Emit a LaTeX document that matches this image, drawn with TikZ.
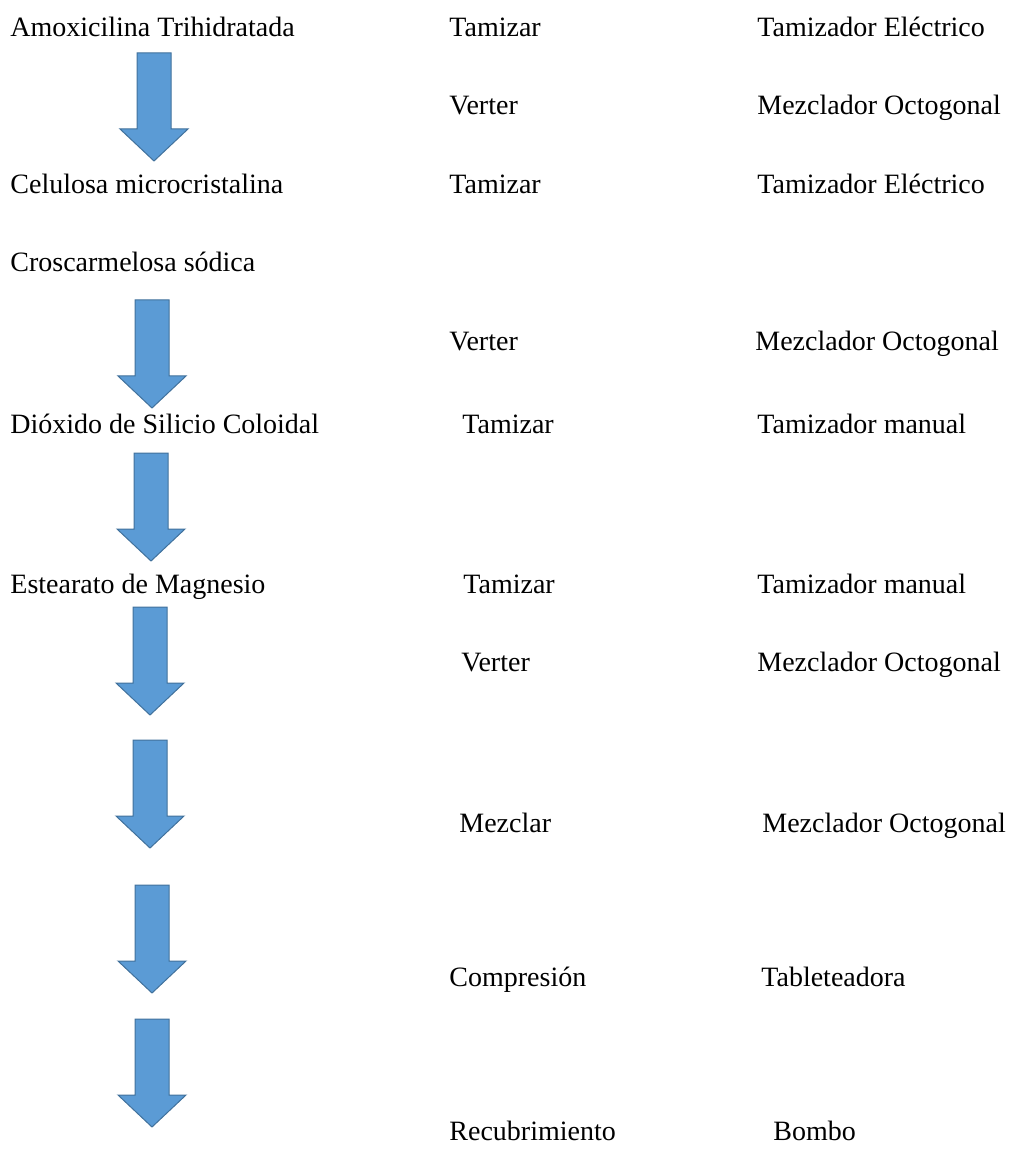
\documentclass[tikz,border=0pt]{standalone}
\usepackage{fontspec}
\setmainfont{Liberation Serif}
\usepackage{tikz}
\usetikzlibrary{positioning}
\definecolor{azulflecha}{HTML}{5B9BD5}
\definecolor{bordeflecha}{HTML}{41719C}
\tikzset{txt/.style={anchor=base west, inner sep=0pt, font=\fontsize{14}{17}\selectfont},
         flecha/.style={fill=azulflecha, draw=bordeflecha, line width=0.5pt, line join=miter}}

\begin{document}
\begin{tikzpicture}[x=0.5pt,y=-0.5pt]
\useasboundingbox (0,0) rectangle (1009,1154);
% materiales
\node[txt] (amox) at (10,37) {Amoxicilina Trihidratada};
\node[txt] (celu) at (10,194) {Celulosa microcristalina};
\node[txt] (cros) at (10,272) {Croscarmelosa sódica};
\node[txt] (diox) at (10,433) {Dióxido de Silicio Coloidal};
\node[txt] (este) at (10,593) {Estearato de Magnesio};
% operaciones
\node[txt] (tam1) at (449,37) {Tamizar};
\node[txt] (ver1) at (449,115) {Verter};
\node[txt] (tam2) at (449,194) {Tamizar};
\node[txt] (ver2) at (449,351) {Verter};
\node[txt] (tam3) at (462,433) {Tamizar};
\node[txt] (tam4) at (463,593) {Tamizar};
\node[txt] (ver3) at (461,671) {Verter};
\node[txt] (mez) at (459,832) {Mezclar};
\node[txt] (comp) at (449,986) {Compresión};
\node[txt] (recu) at (449,1140) {Recubrimiento};
% equipos
\node[txt] (eq1) at (757,37) {Tamizador Eléctrico};
\node[txt] (eq2) at (757,115) {Mezclador Octogonal};
\node[txt] (eq3) at (757,194) {Tamizador Eléctrico};
\node[txt] (eq4) at (755,351) {Mezclador Octogonal};
\node[txt] (eq5) at (757,433) {Tamizador manual};
\node[txt] (eq6) at (757,593) {Tamizador manual};
\node[txt] (eq7) at (757,671) {Mezclador Octogonal};
\node[txt] (eq8) at (762,832) {Mezclador Octogonal};
\node[txt] (eq9) at (761,986) {Tableteadora};
\node[txt] (eq10) at (773,1140) {Bombo};
% flechas
\foreach \cx/\ya in {154/53,152/300,151/453,150/607,150/740,152/885,152/1019}
  \draw[flecha] (\cx-17,\ya) -- (\cx+17,\ya) -- (\cx+17,\ya+76) -- (\cx+34,\ya+76)
    -- (\cx,\ya+108) -- (\cx-34,\ya+76) -- (\cx-17,\ya+76) -- cycle;
\end{tikzpicture}
\end{document}
